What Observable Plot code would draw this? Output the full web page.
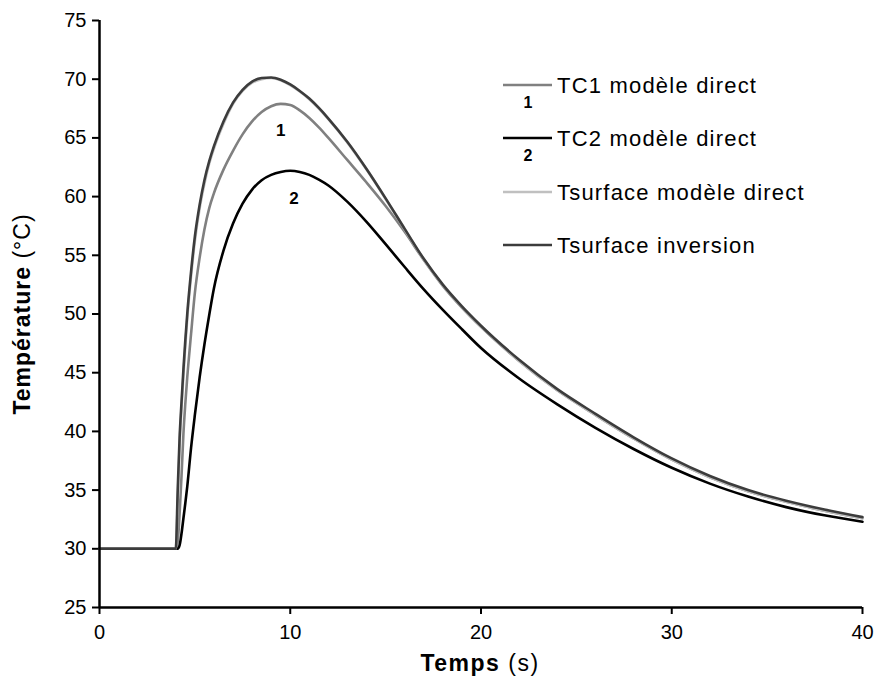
<!DOCTYPE html>
<html>
<head>
<meta charset="utf-8">
<script src="https://cdn.jsdelivr.net/npm/d3@7"></script>
<script src="https://cdn.jsdelivr.net/npm/@observablehq/plot@0.6"></script>
<style>
  html, body { margin: 0; padding: 0; background: #fff; }
  #chart { width: 880px; height: 693px; }
  svg { display: block; }
  #chart svg g[aria-label="y-axis tick label"],
  #chart svg g[aria-label="x-axis tick label"] { font-size: 20px; }
</style>
</head>
<body>
<div id="chart"></div>
<script>
// ---- Data ----
const time = [0,1,2,3,3.9, 4.0,4.1,4.2,4.3,4.4,4.5,4.6,4.8, 5.0,5.25,5.5,5.75,6.0, 6.5,7.0,7.5,8.0,8.5,9.0,9.5,10, 10.5,11,11.5,12,13,14,15,16,17,18,19,20, 22,24,26,28,30,32,34,36,38,40];

const tc1Direct = [30,30,30,30,30, 30,30.6,33.0,36.2,39.8,42.4,44.6,48.3, 51.8,54.8,57.2,59.0,60.3, 62.3,63.9,65.3,66.4,67.2,67.7,67.9,67.8, 67.35,66.7,65.9,65.0,63.1,61.2,59.2,57.0,54.6,52.4,50.55,48.9, 46.0,43.5,41.4,39.4,37.6,36.1,34.9,34.0,33.25,32.6];

const tc2Direct = [30,30,30,30,30, 30,30,30.3,31.3,32.6,33.9,35.3,38.6, 41.4,44.6,47.4,49.9,52.2, 55.4,57.7,59.4,60.6,61.4,61.85,62.1,62.2, 62.1,61.85,61.45,60.95,59.55,57.85,55.95,54.0,52.1,50.35,48.7,47.1, 44.5,42.3,40.3,38.5,36.9,35.55,34.45,33.55,32.85,32.3];

const tsurfDirect = [30,30,30,30,30, 30,34,38.8,42.0,44.8,47.3,49.6,53.2, 56.2,59.0,61.1,62.8,64.1, 66.2,67.9,69.0,69.7,70.0,70.1,69.9,69.5, 68.95,68.3,67.5,66.6,64.6,62.3,59.8,57.2,54.65,52.45,50.6,48.95, 46.0,43.5,41.4,39.4,37.6,36.1,34.9,34.0,33.25,32.6];

const tsurfInversion = [30,30,30,30,30, 30,35,39.5,42.5,45.3,47.8,50.0,53.6, 56.6,59.3,61.4,63.0,64.3, 66.4,68.0,69.1,69.8,70.1,70.15,69.95,69.55, 69.0,68.35,67.55,66.65,64.65,62.35,59.85,57.25,54.7,52.5,50.65,49.0, 46.1,43.6,41.5,39.5,37.7,36.2,35.0,34.1,33.35,32.7];

const seriesNames = ["TC1 modèle direct", "TC2 modèle direct", "Tsurface modèle direct", "Tsurface inversion"];
const seriesColors = ["#808080", "#000000", "#c0c0c0", "#3c3c3c"];
const seriesNumbers = ["1", "2", "", ""];

const curveLabels = ["1", "2"];
const curveLabelTime = [9.5, 10.2];
const curveLabelTemp = [65.6, 59.8];

const xTicks = [0, 10, 20, 30, 40];
const yTicks = [25, 30, 35, 40, 45, 50, 55, 60, 65, 70, 75];

// ---- Build table ----
const allSeries = [tc1Direct, tc2Direct, tsurfDirect, tsurfInversion];
const rows = [];
allSeries.forEach((vals, si) => {
  time.forEach((t, i) => rows.push({t, T: vals[i], s: seriesNames[si]}));
});
const labelRows = curveLabels.map((l, i) => ({l, t: curveLabelTime[i], T: curveLabelTemp[i]}));

const font = "'Liberation Sans', Arial, Helvetica, sans-serif";

const chart = Plot.plot({
  width: 880,
  height: 693,
  marginLeft: 99,
  marginRight: 18,
  marginTop: 20,
  marginBottom: 86,
  style: {fontFamily: font, fontSize: "19px", color: "#000", background: "#fff"},
  x: {domain: [0, 40]},
  y: {domain: [25, 75]},
  marks: [
    Plot.axisY({ticks: yTicks, tickSize: 7, tickPadding: 6, strokeWidth: 2, label: null}),
    Plot.axisX({ticks: xTicks, tickSize: 7, tickPadding: 10, strokeWidth: 2, label: null}),
    ...seriesNames.map((name, si) =>
      Plot.line(rows.filter(r => r.s === name), {x: "t", y: "T", stroke: seriesColors[si], strokeWidth: 2.6, curve: "monotone-x"})
    ),
    Plot.ruleX([0], {stroke: "#000", strokeWidth: 2.5}),
    Plot.ruleY([25], {stroke: "#000", strokeWidth: 2.5}),
    Plot.text(labelRows, {x: "t", y: "T", text: "l", fontWeight: "bold", fontSize: 17, fill: "#000"})
  ]
});

document.getElementById("chart").appendChild(chart);

// ---- Axis titles and legend (mixed bold / normal text) ----
const svg = d3.select(chart);
const yTitle = svg.append("text")
  .attr("transform", "translate(30,314) rotate(-90)")
  .attr("text-anchor", "middle")
  .attr("font-family", font)
  .attr("font-size", 23)
  .attr("letter-spacing", 1)
  .attr("fill", "#000");
yTitle.append("tspan").attr("font-weight", "bold").text("Température");
yTitle.append("tspan").text(" (°C)");

const xTitle = svg.append("text")
  .attr("x", 480).attr("y", 671)
  .attr("text-anchor", "middle")
  .attr("font-family", font)
  .attr("font-size", 23)
  .attr("letter-spacing", 1.5)
  .attr("fill", "#000");
xTitle.append("tspan").attr("font-weight", "bold").text("Temps");
xTitle.append("tspan").text(" (s)");

const legendRowsY = [85, 138, 192, 245];
const leg = svg.append("g").attr("font-family", font);
seriesNames.forEach((name, i) => {
  const y = legendRowsY[i];
  leg.append("line").attr("x1", 503).attr("x2", 552).attr("y1", y).attr("y2", y)
    .attr("stroke", seriesColors[i]).attr("stroke-width", 2.6);
  leg.append("text").attr("x", 557).attr("y", y).attr("dy", "0.35em")
    .attr("text-anchor", "start")
    .attr("font-size", 22).attr("letter-spacing", 1.2).attr("fill", "#000").text(name);
  if (seriesNumbers[i]) {
    leg.append("text").attr("x", 528).attr("y", y + 17).attr("dy", "0.35em")
      .attr("text-anchor", "middle").attr("font-weight", "bold").attr("font-size", 16)
      .attr("fill", "#000").text(seriesNumbers[i]);
  }
});
</script>
</body>
</html>
